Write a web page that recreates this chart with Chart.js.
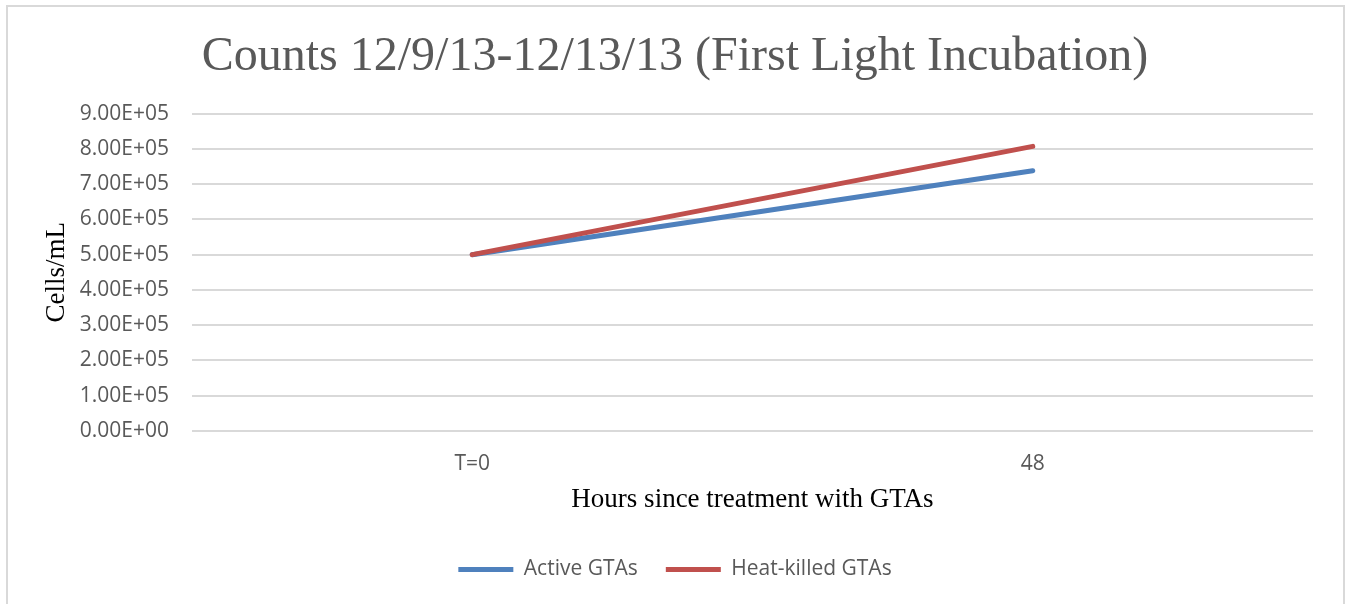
<!DOCTYPE html>
<html>
<head>
<meta charset="utf-8">
<script src="https://cdn.jsdelivr.net/npm/chart.js@4"></script>
<style>
  body { margin: 0; background: #ffffff; }
  #wrap { position: relative; width: 1347px; height: 604px; }
  #frame { position: absolute; left: 6px; top: 5px; width: 1335px; height: 620px;
           border: 2px solid #d9d9d9; pointer-events: none; }
  canvas { position: absolute; left: 0; top: 0; }
</style>
</head>
<body>
<div id="wrap">
  <canvas id="counts" width="1347" height="604"></canvas>
  <div id="frame"></div>
</div>
<script>
// dados do gráfico
var categories = ['T=0', '48'];
var activeGTAs = [500000, 738000];
var heatKilledGTAs = [500000, 807000];
var yTicks = [0, 100000, 200000, 300000, 400000, 500000, 600000, 700000, 800000, 900000];

// formato tipo Excel: 9.00E+05
function sci(v) {
  if (v === 0) return '0.00E+00';
  var exp = Math.floor(Math.log10(Math.abs(v)));
  var mant = v / Math.pow(10, exp);
  var e = (exp < 0 ? '-' : '+') + String(Math.abs(exp)).padStart(2, '0');
  return mant.toFixed(2) + 'E' + e;
}

var ctx = document.getElementById('counts').getContext('2d');
var chart = new Chart(ctx, {
  type: 'line',
  data: {
    labels: categories,
    datasets: [{
      label: 'Active GTAs',
      data: activeGTAs,
      borderColor: '#4f81bd',
      backgroundColor: '#4f81bd',
      borderWidth: 5,
      borderCapStyle: 'round',
      pointRadius: 0,
      fill: false,
      order: 1
    }, {
      label: 'Heat-killed GTAs',
      data: heatKilledGTAs,
      borderColor: '#c0504d',
      backgroundColor: '#c0504d',
      borderWidth: 5,
      borderCapStyle: 'round',
      pointRadius: 0,
      fill: false,
      order: 0 // vermelho por cima
    }]
  },
  options: {
    responsive: false,
    animation: false,
    layout: { padding: { left: 37, right: 34, bottom: 14 } },
    plugins: {
      title: {
        display: true,
        text: 'Counts 12/9/13-12/13/13 (First Light Incubation)',
        color: '#595959',
        font: { family: '"Liberation Serif", serif', size: 48, weight: 'normal' },
        padding: { top: 29, bottom: 27 }
      },
      legend: {
        position: 'bottom',
        maxHeight: 60,
        labels: {
          color: '#595959',
          font: { family: '"Open Sans", sans-serif', size: 21 },
          usePointStyle: true,
          pointStyle: 'line',
          pointStyleWidth: 55,
          padding: 28,
          sort: function(a, b) { return a.datasetIndex - b.datasetIndex; }
        }
      },
      tooltip: { enabled: false }
    },
    scales: {
      x: {
        offset: true,
        afterFit: function(axis) { axis.height = 100; },
        grid: { display: false },
        border: { display: false },
        ticks: {
          color: '#595959',
          padding: 12,
          font: { family: '"Open Sans", sans-serif', size: 21 }
        },
        title: {
          display: true,
          text: 'Hours since treatment with GTAs',
          color: '#000000',
          font: { family: '"Liberation Serif", serif', size: 27 },
          padding: { top: 0, bottom: 15 }
        }
      },
      y: {
        min: 0,
        max: 900000,
        afterBuildTicks: function(axis) {
          axis.ticks = yTicks.map(function(v) { return { value: v }; });
        },
        afterFit: function(axis) { axis.width = 155; },
        grid: { color: '#d9d9d9', lineWidth: 2, drawTicks: false },
        border: { display: false },
        ticks: {
          color: '#595959',
          padding: 23,
          font: { family: '"Open Sans", sans-serif', size: 21 },
          callback: function(v) { return sci(v); }
        },
        title: {
          display: true,
          text: 'Cells/mL',
          color: '#000000',
          font: { family: '"Liberation Serif", serif', size: 27 },
          padding: { top: 4, bottom: 0 }
        }
      }
    }
  }
});
</script>
</body>
</html>
